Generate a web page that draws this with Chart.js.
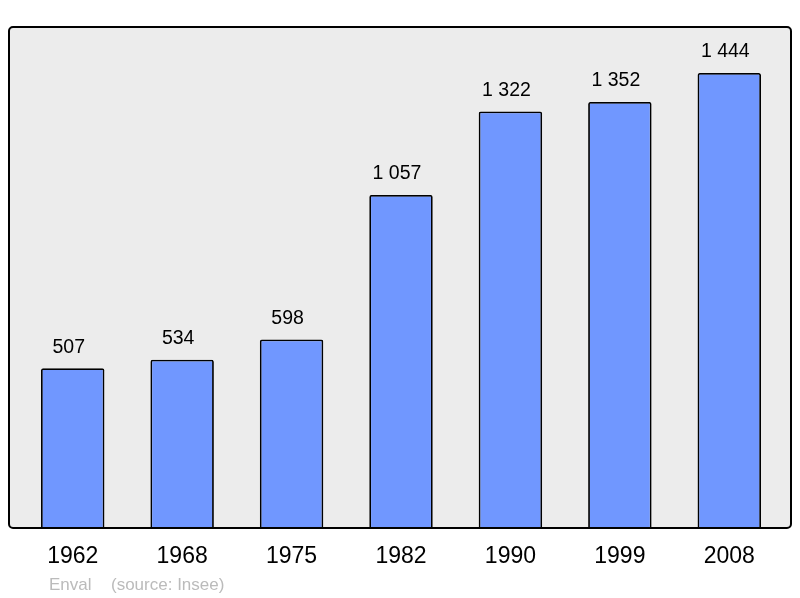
<!DOCTYPE html>
<html>
<head>
<meta charset="utf-8">
<script src="https://cdn.jsdelivr.net/npm/chart.js@4/dist/chart.umd.min.js"></script>
<style>
  html, body { margin: 0; padding: 0; background: #fff; }
  #wrap { width: 800px; height: 598px; position: relative; }
</style>
</head>
<body>
<div id="wrap"><canvas id="pop"></canvas></div>
<script>
const years = ['1962', '1968', '1975', '1982', '1990', '1999', '2008'];
const population = [507, 534, 598, 1057, 1322, 1352, 1444];
const valueLabels = ['507', '534', '598', '1 057', '1 322', '1 352', '1 444'];
const footerName = 'Enval';
const footerSource = '(source: Insee)';

// frame, value labels, year labels and footer
const decor = {
  id: 'decor',
  beforeDraw(chart) {
    const { ctx, chartArea: a } = chart;
    const x0 = a.left - 9, x1 = a.right + 7, y0 = a.top, y1 = a.bottom;
    ctx.save();
    ctx.beginPath();
    ctx.roundRect(x0, y0, x1 - x0, y1 - y0, 4);
    ctx.fillStyle = '#ececec';
    ctx.fill();
    ctx.restore();
  },
  afterDatasetsDraw(chart) {
    const { ctx, chartArea: a } = chart;
    const x0 = a.left - 9, x1 = a.right + 7, y0 = a.top, y1 = a.bottom;
    ctx.save();
    ctx.beginPath();
    ctx.roundRect(x0, y0, x1 - x0, y1 - y0, 4);
    ctx.lineWidth = 2;
    ctx.strokeStyle = '#000';
    ctx.stroke();

    const meta = chart.getDatasetMeta(0);
    ctx.fillStyle = '#000';
    ctx.textAlign = 'center';
    ctx.textBaseline = 'middle';
    ctx.font = '19.5px "Liberation Sans", Arial, sans-serif';
    meta.data.forEach((bar, i) => {
      ctx.fillText(valueLabels[i], bar.x - 4, bar.y - 21);
    });
    ctx.font = '23px "Liberation Sans", Arial, sans-serif';
    const xs = chart.scales.x;
    years.forEach((y, i) => {
      ctx.fillText(y, xs.getPixelForValue(i), a.bottom + 29);
    });
    ctx.fillStyle = '#bbbbbb';
    ctx.font = '17px "Liberation Sans", Arial, sans-serif';
    ctx.textAlign = 'left';
    ctx.fillText(footerName, 49, 585);
    ctx.fillText(footerSource, 111, 585);
    ctx.restore();
  }
};

new Chart(document.getElementById('pop'), {
  type: 'bar',
  data: {
    labels: years,
    datasets: [{
      data: population,
      backgroundColor: '#7097ff',
      borderColor: '#000',
      borderWidth: 1.8,
      borderRadius: 2,
      borderSkipped: 'bottom',
      barPercentage: 0.58,
      categoryPercentage: 1
    }]
  },
  options: {
    responsive: true,
    maintainAspectRatio: false,
    animation: false,
    layout: { padding: { left: 18, right: 16, top: 27, bottom: 70 } },
    scales: {
      x: { display: false },
      y: { display: false, min: 0, max: 1590 }
    },
    plugins: {
      legend: { display: false },
      tooltip: { enabled: false }
    }
  },
  plugins: [decor]
});
</script>
</body>
</html>
